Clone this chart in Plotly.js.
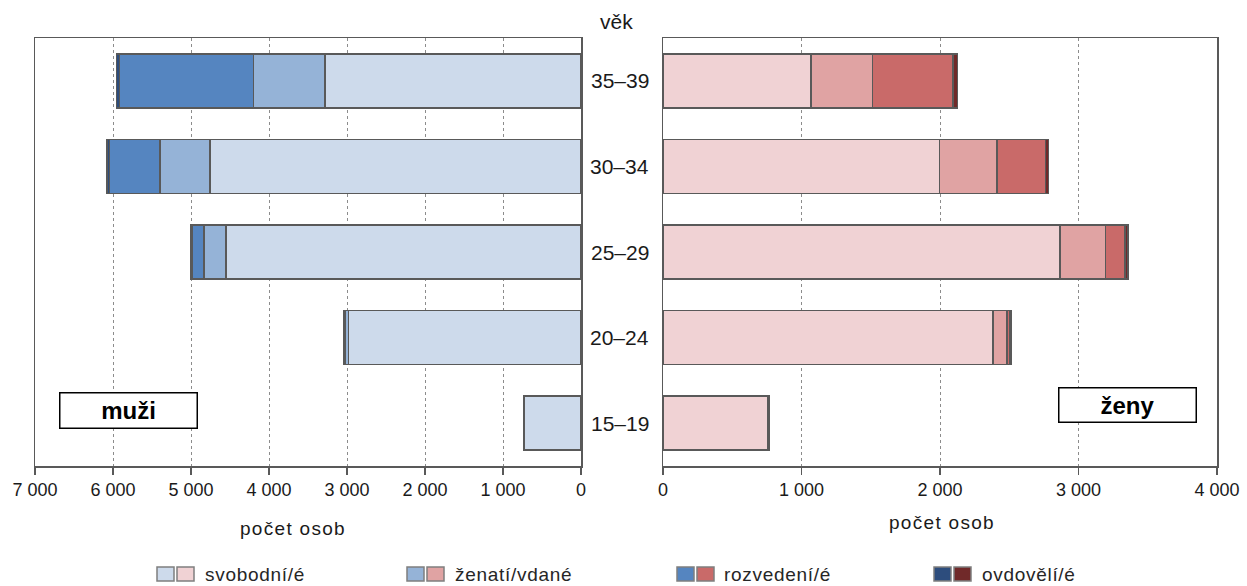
<!DOCTYPE html>
<html>
<head>
<meta charset="utf-8">
<script src="https://cdn.plot.ly/plotly-3.0.1.min.js"></script>
<style>
  html, body { margin: 0; padding: 0; background: #ffffff; }
  #chart { width: 1247px; height: 586px; }
</style>
</head>
<body>
<div id="chart"></div>
<script>
// ---- data ----
const ageGroups = ['15–19', '20–24', '25–29', '30–34', '35–39'];
const statusLabels = ['svobodní/é', 'ženatí/vdané', 'rozvedení/é', 'ovdovělí/é'];

const menSingle   = [730, 2980, 4552, 4759, 3282];
const menMarried  = [5, 40, 281, 640, 916];
const menDivorced = [0, 20, 153, 646, 1718];
const menWidowed  = [0, 5, 20, 35, 40];

const womenSingle   = [755, 2382, 2868, 1997, 1069];
const womenMarried  = [8, 100, 327, 414, 445];
const womenDivorced = [2, 18, 140, 351, 581];
const womenWidowed  = [2, 12, 22, 22, 33];

const menTickVals = [0, 1000, 2000, 3000, 4000, 5000, 6000, 7000];
const menTickText = ['0', '1 000', '2 000', '3 000', '4 000', '5 000', '6 000', '7 000'];
const womenTickVals = [0, 1000, 2000, 3000, 4000];
const womenTickText = ['0', '1 000', '2 000', '3 000', '4 000'];

// ---- styles ----
const menColors   = ['#CDDAEB', '#95B3D7', '#5585C0', '#2D4D7D'];
const womenColors = ['#F0D2D4', '#E0A3A3', '#C96A69', '#702929'];
const outline = '#595959';

const menSeries = [menSingle, menMarried, menDivorced, menWidowed];
const womenSeries = [womenSingle, womenMarried, womenDivorced, womenWidowed];

const traces = [];
menSeries.forEach((vals, i) => {
  traces.push({
    type: 'bar', orientation: 'h', name: statusLabels[i],
    x: vals, y: ageGroups, xaxis: 'x', yaxis: 'y',
    marker: { color: menColors[i], line: { color: outline, width: 1.5 } },
    width: 0.63, hoverinfo: 'x+y+name'
  });
});
womenSeries.forEach((vals, i) => {
  traces.push({
    type: 'bar', orientation: 'h', name: statusLabels[i],
    x: vals, y: ageGroups, xaxis: 'x2', yaxis: 'y2',
    marker: { color: womenColors[i], line: { color: outline, width: 1.5 } },
    width: 0.63, hoverinfo: 'x+y+name'
  });
});

// pixel -> paper helpers (plot area: x 35..1217, y 38..466)
const W = 1247, H = 586, ML = 35, MR = 30, MT = 38, MB = 120;
const PW = W - ML - MR, PH = H - MT - MB;
const px = v => (v - ML) / PW;
const py = v => (H - MB - v) / PH;

const axisCommon = {
  showgrid: true, gridcolor: '#8c8c8c', griddash: 'dot', gridwidth: 1,
  showline: true, mirror: true, linecolor: outline, linewidth: 1.5,
  ticks: 'outside', ticklen: 7, tickcolor: outline, tickwidth: 1.5,
  zeroline: false, tickfont: { size: 18, color: '#1a1a1a' }, fixedrange: true
};
const yCommon = {
  type: 'category', categoryorder: 'array', categoryarray: ageGroups,
  showline: true, mirror: true, linecolor: outline, linewidth: 1.5,
  showticklabels: false, ticks: '', showgrid: false, zeroline: false, fixedrange: true
};

const annotations = [];
// category labels between panels
ageGroups.forEach(g => {
  annotations.push({ text: g, xref: 'paper', yref: 'y', x: px(619.5), y: g,
    xanchor: 'center', yanchor: 'middle', showarrow: false,
    font: { size: 21, color: '#1a1a1a' } });
});
annotations.push({ text: 'věk', xref: 'paper', yref: 'paper', x: px(616), y: py(21),
  xanchor: 'center', yanchor: 'middle', showarrow: false, font: { size: 21, color: '#1a1a1a' } });
// axis titles
annotations.push({ text: '<span style="letter-spacing:1.3px">počet osob</span>', xref: 'paper', yref: 'paper',
  x: px(292.5), y: py(528), xanchor: 'center', yanchor: 'middle', showarrow: false,
  font: { size: 19, color: '#1a1a1a' } });
annotations.push({ text: '<span style="letter-spacing:1.3px">počet osob</span>', xref: 'paper', yref: 'paper',
  x: px(942), y: py(522), xanchor: 'center', yanchor: 'middle', showarrow: false,
  font: { size: 19, color: '#1a1a1a' } });
// panel labels
annotations.push({ text: '<b>muži</b>', xref: 'paper', yref: 'paper', x: px(128.5), y: py(410.5),
  xanchor: 'center', yanchor: 'middle', showarrow: false, width: 134, height: 32,
  bgcolor: '#ffffff', bordercolor: '#000000', borderwidth: 1.5, borderpad: 1,
  font: { size: 24, color: '#000000' } });
annotations.push({ text: '<b>ženy</b>', xref: 'paper', yref: 'paper', x: px(1127), y: py(404.5),
  xanchor: 'center', yanchor: 'middle', showarrow: false, width: 134, height: 31,
  bgcolor: '#ffffff', bordercolor: '#000000', borderwidth: 1.5, borderpad: 1,
  font: { size: 24, color: '#000000' } });

// manual legend (double swatches)
const legendStarts = [157, 407, 677, 934];
const legendTextX = [203, 453, 722, 980];
const swW = 17, swGap = 3, swTop = 567, swBot = 581;
const shapes = [];
statusLabels.forEach((lab, i) => {
  const x0 = legendStarts[i];
  [menColors[i], womenColors[i]].forEach((c, k) => {
    const a = x0 + k * (swW + swGap);
    shapes.push({ type: 'rect', xref: 'paper', yref: 'paper',
      x0: px(a), x1: px(a + swW), y0: py(swBot), y1: py(swTop),
      fillcolor: c, line: { color: '#7f7f7f', width: 1.5 } });
  });
  annotations.push({ text: '<span style="letter-spacing:0.7px">' + lab + '</span>', xref: 'paper', yref: 'paper',
    x: px(legendTextX[i]), y: py(574), xanchor: 'left', yanchor: 'middle', showarrow: false,
    font: { size: 19, color: '#262626' } });
});

const layout = {
  width: W, height: H,
  margin: { l: ML, r: MR, t: MT, b: MB, pad: 0 },
  barmode: 'stack', showlegend: false,
  plot_bgcolor: '#ffffff', paper_bgcolor: '#ffffff',
  font: { family: 'Liberation Sans, Arial, sans-serif', size: 18, color: '#1a1a1a' },
  xaxis: Object.assign({}, axisCommon, { domain: [0, px(581)], range: [7000, 0], anchor: 'y',
    tickvals: menTickVals, ticktext: menTickText }),
  yaxis: Object.assign({}, yCommon, { domain: [0, 1], anchor: 'x' }),
  xaxis2: Object.assign({}, axisCommon, { domain: [px(663), 1], range: [0, 4000], anchor: 'y2',
    tickvals: womenTickVals, ticktext: womenTickText }),
  yaxis2: Object.assign({}, yCommon, { domain: [0, 1], anchor: 'x2' }),
  annotations: annotations,
  shapes: shapes
};

Plotly.newPlot('chart', traces, layout, { displayModeBar: false, staticPlot: true });
</script>
</body>
</html>
